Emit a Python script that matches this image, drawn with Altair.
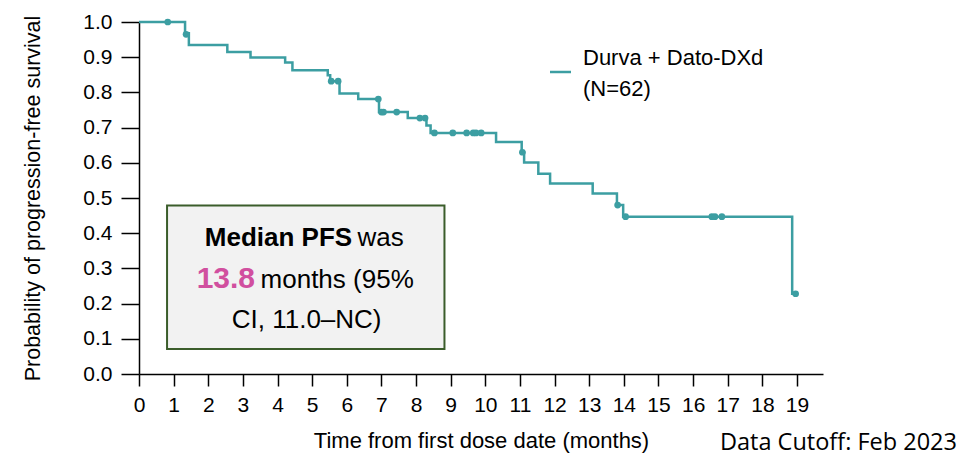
import altair as alt
import pandas as pd

# Kaplan-Meier step points (time in months, survival probability)
event_times = [0, 1.33, 1.44, 2.55, 3.22, 4.22, 4.43, 5.45, 5.52, 5.79, 6.33, 6.93,
               7.76, 8.30, 8.42, 10.31, 11.05, 11.12, 11.53, 11.87, 13.10, 13.80,
               13.98, 18.86, 18.96]
surv = [1.0, 0.968, 0.935, 0.915, 0.899, 0.885, 0.863, 0.849, 0.832, 0.797, 0.781,
        0.744, 0.727, 0.706, 0.685, 0.659, 0.630, 0.601, 0.569, 0.541, 0.513, 0.480,
        0.447, 0.228, 0.228]

# Censored observations
censor_times = [0.83, 1.36, 5.55, 5.75, 6.91, 7.00, 7.06, 7.44, 8.11, 8.26, 8.53,
                9.06, 9.46, 9.65, 9.73, 9.88, 11.07, 13.82, 14.05, 16.54, 16.63,
                16.83, 18.96]
censor_surv = [1.0, 0.965, 0.832, 0.832, 0.781, 0.744, 0.744, 0.744, 0.727, 0.727,
               0.685, 0.685, 0.685, 0.685, 0.685, 0.685, 0.630, 0.480, 0.447, 0.447,
               0.447, 0.447, 0.228]

x_ticks = list(range(0, 20))
y_ticks = [round(i * 0.1, 1) for i in range(11)]

series_name = "Durva + Dato-DXd"
series_n = "(N=62)"
teal = "#3c9ea2"
pink = "#d14f9f"
sans = "Liberation Sans, Arial, sans-serif"

curve_df = pd.DataFrame({"t": event_times, "s": surv})
cens_df = pd.DataFrame({"t": censor_times, "s": censor_surv})

x_scale = alt.Scale(domain=[0, 19.75], nice=False, zero=False)
y_scale = alt.Scale(domain=[0, 1], nice=False)

x_axis = alt.Axis(values=x_ticks, tickSize=12, labelPadding=8, labelOverlap=False, labelFlush=False,
                  title="Time from first dose date (months)", titlePadding=15, titleFontSize=22,
                  grid=False)
y_axis = alt.Axis(values=y_ticks, format=".1f", tickSize=18, labelPadding=9, labelOverlap=False,
                  labelFlush=False, title="Probability of progression-free survival",
                  titlePadding=38, titleFontSize=21.5, grid=False)


def X(field):
    return alt.X(field, scale=x_scale, axis=x_axis)


def Y(field):
    return alt.Y(field, scale=y_scale, axis=y_axis)


# annotation box
box_df = pd.DataFrame({"x1": [0.81], "x2": [8.82], "y1": [0.071], "y2": [0.479]})
box = alt.Chart(box_df).mark_rect(fill="#f2f2f2", stroke="#3b5d2b", strokeWidth=2).encode(
    x=X("x1:Q"), x2="x2:Q", y=Y("y1:Q"), y2="y2:Q",
)

line = alt.Chart(curve_df).mark_line(interpolate="step-after", color=teal, strokeWidth=2.5).encode(
    x=X("t:Q"), y=Y("s:Q"),
)
dots = alt.Chart(cens_df).mark_point(filled=True, color=teal, size=45, opacity=1).encode(
    x=X("t:Q"), y=Y("s:Q"),
)

ann_bold = pd.DataFrame({"t": [1.90], "s": [0.365], "txt": ["Median PFS"]})
ann_reg = pd.DataFrame({"t": [6.31, 3.51], "s": [0.365, 0.245], "txt": ["was", "months (95%"]})
ann_pink = pd.DataFrame({"t": [1.665], "s": [0.245], "txt": ["13.8"]})
ann_ctr = pd.DataFrame({"t": [4.84], "s": [0.132], "txt": ["CI, 11.0\u2013NC)"]})

t_bold = alt.Chart(ann_bold).mark_text(align="left", baseline="alphabetic", fontSize=26,
                                       fontWeight="bold", font=sans, color="black").encode(
    x=X("t:Q"), y=Y("s:Q"), text="txt:N")
t_reg = alt.Chart(ann_reg).mark_text(align="left", baseline="alphabetic", fontSize=26,
                                     font=sans, color="black").encode(
    x=X("t:Q"), y=Y("s:Q"), text="txt:N")
t_pink = alt.Chart(ann_pink).mark_text(align="left", baseline="alphabetic", fontSize=30,
                                       fontWeight="bold", font=sans, color=pink).encode(
    x=X("t:Q"), y=Y("s:Q"), text="txt:N")
t_ctr = alt.Chart(ann_ctr).mark_text(align="center", baseline="alphabetic", fontSize=26,
                                     font=sans, color="black").encode(
    x=X("t:Q"), y=Y("s:Q"), text="txt:N")

# manual legend
leg_line = alt.Chart(pd.DataFrame({"a": [0]})).mark_rule(color=teal, strokeWidth=2.5).encode(
    x=alt.value(411), x2=alt.value(432), y=alt.value(50))
leg_t1 = alt.Chart(pd.DataFrame({"a": [0]})).mark_text(
    text=series_name, align="left", baseline="alphabetic", fontSize=22, font=sans, color="black"
).encode(x=alt.value(444), y=alt.value(43))
leg_t2 = alt.Chart(pd.DataFrame({"a": [0]})).mark_text(
    text=series_n, align="left", baseline="alphabetic", fontSize=22, font=sans, color="black"
).encode(x=alt.value(444), y=alt.value(74))

cutoff = alt.Chart(pd.DataFrame({"a": [0]})).mark_text(
    text="Data Cutoff: Feb 2023", align="right", baseline="alphabetic", fontSize=23.5,
    font="Open Sans", color="black"
).encode(x=alt.value(818), y=alt.value(428))

chart = alt.layer(box, line, dots, t_bold, t_reg, t_pink, t_ctr, leg_line, leg_t1, leg_t2, cutoff).properties(
    width=684, height=352,
    autosize=alt.AutoSizeParams(type="none"),
    padding={"left": 131, "top": 14, "right": 142, "bottom": 86},
).configure_view(stroke=None).configure_axis(
    labelFont=sans, titleFont=sans, labelFontSize=21,
    labelColor="black", titleColor="black", titleFontWeight="normal",
    domainColor="black", tickColor="black", domainWidth=1.5, tickWidth=1.5,
)

chart.save("out.html", embed_options={"renderer": "svg", "actions": False})
